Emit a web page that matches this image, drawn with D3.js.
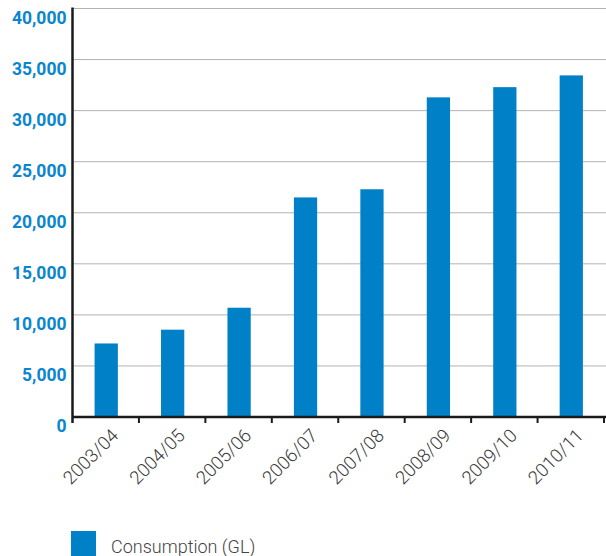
<!DOCTYPE html>
<html>
<head>
<meta charset="utf-8">
<script src="https://cdn.jsdelivr.net/npm/d3@7"></script>
<style>
  html, body { margin: 0; padding: 0; background: #fff; }
  svg { display: block; }
</style>
</head>
<body>
<svg id="chart" width="606" height="556"></svg>
<script>
// Annual water consumption, gigalitres
const years = ["2003/04", "2004/05", "2005/06", "2006/07", "2007/08", "2008/09", "2009/10", "2010/11"];
const consumption = [7200, 8550, 10700, 21500, 22300, 31300, 32300, 33450];
const yTicks = [0, 5000, 10000, 15000, 20000, 25000, 30000, 35000, 40000];
const seriesName = "Consumption (GL)";

const svg = d3.select("#chart");
const plotLeft = 72.5, plotRight = 604, plotTop = 8.5, plotBottom = 417;
const barColor = "#0080c6";

const x = d3.scaleBand().domain(years).range([plotLeft, plotRight]).padding(0);
const y = d3.scaleLinear().domain([0, 40000]).range([plotBottom, plotTop]);

// dotted gridlines
svg.append("g")
  .selectAll("line")
  .data(yTicks.filter(d => d > 0))
  .join("line")
  .attr("x1", plotLeft).attr("x2", 606)
  .attr("y1", d => y(d)).attr("y2", d => y(d))
  .attr("stroke", "#666")
  .attr("stroke-width", 1)
  .attr("stroke-dasharray", "1,1");

// bars
const barW = x.bandwidth() * 0.35;
svg.append("g")
  .selectAll("rect")
  .data(years)
  .join("rect")
  .attr("x", d => x(d) + x.bandwidth() / 2 - barW / 2 + 0.5)
  .attr("y", (d, i) => y(consumption[i]))
  .attr("width", barW)
  .attr("height", (d, i) => y(0) - y(consumption[i]))
  .attr("fill", barColor);

// y axis labels, hanging just below each gridline
svg.append("g")
  .selectAll("text")
  .data(yTicks)
  .join("text")
  .attr("x", 66.5)
  .attr("y", d => y(d) + 15)
  .attr("text-anchor", "end")
  .attr("font-family", "Roboto, 'Open Sans', sans-serif")
  .attr("font-weight", 700)
  .attr("font-size", 17.5)
  .attr("fill", "#0a86cf")
  .text(d => d3.format(",")(d));

// axis lines
svg.append("line")
  .attr("x1", plotLeft).attr("x2", plotLeft)
  .attr("y1", plotTop - 1).attr("y2", plotBottom + 6)
  .attr("stroke", "#1a1a1a").attr("stroke-width", 2.5);
svg.append("line")
  .attr("x1", plotLeft).attr("x2", 606)
  .attr("y1", plotBottom).attr("y2", plotBottom)
  .attr("stroke", "#1a1a1a").attr("stroke-width", 2.5);

// x tick marks at band boundaries
svg.append("g")
  .selectAll("line")
  .data(years)
  .join("line")
  .attr("x1", d => x(d) + x.bandwidth()).attr("x2", d => x(d) + x.bandwidth())
  .attr("y1", plotBottom).attr("y2", plotBottom + 6)
  .attr("stroke", "#1a1a1a").attr("stroke-width", 2);

// x labels, rotated
svg.append("g")
  .selectAll("text")
  .data(years)
  .join("text")
  .attr("transform", d => `translate(${x(d) + x.bandwidth() / 2 + 4},${plotBottom + 10}) rotate(-45)`)
  .attr("text-anchor", "end")
  .attr("dy", "0.75em")
  .attr("font-family", "Roboto, 'Open Sans', sans-serif")
  .attr("font-weight", 300)
  .attr("font-size", 18.5)
  .attr("fill", "#3a3a3a")
  .text(d => d);

// legend
const legend = svg.append("g");
legend.append("rect")
  .attr("x", 71).attr("y", 531).attr("width", 25).attr("height", 25)
  .attr("fill", barColor);
legend.append("text")
  .attr("x", 111).attr("y", 552.5)
  .attr("font-family", "Roboto, 'Open Sans', sans-serif")
  .attr("font-weight", 300)
  .attr("font-size", 18)
  .attr("fill", "#444")
  .text(seriesName);
</script>
</body>
</html>
